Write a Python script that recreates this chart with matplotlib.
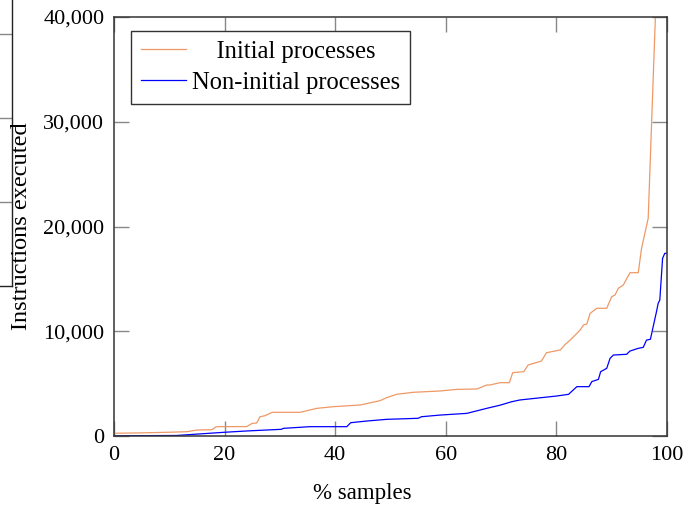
import numpy as np
import matplotlib.pyplot as plt

# % samples / instructions executed
init_x = [0, 5, 10, 13.2, 15, 17.7, 18.5, 24, 25, 25.8, 26.4, 27.3, 28.6, 33.6,
          35.4, 36.7, 39.7, 44.5, 48.1, 49.3, 51.1, 54.1, 59, 62, 65.6, 66.2,
          67.4, 68, 69.8, 71.5, 72.1, 74.1, 74.9, 77.3, 78.2, 80.7, 81.6, 82.5,
          83.4, 84.3, 84.9, 85.5, 86.1, 87.3, 89.1, 90, 90.6, 91.2, 92.1, 93.3,
          94.8, 95.4, 96.6, 97.9, 98.3]
init_y = [260, 300, 360, 410, 570, 600, 890, 900, 1210, 1240, 1840, 1940, 2260, 2260,
          2480, 2640, 2800, 2960, 3370, 3660, 3980, 4170, 4300, 4450, 4490, 4610,
          4870, 4870, 5090, 5090, 6050, 6140, 6780, 7160, 7950, 8210, 8750, 9160,
          9640, 10120, 10600, 10690, 11710, 12190, 12190, 13300, 13460, 14100, 14420, 15590,
          15590, 17920, 20780, 40000, 46000]

noninit_x = [0, 11.3, 19.8, 24, 30.3, 30.6, 35.4, 42.1, 42.8, 45.7, 49.3, 55, 55.6,
             59, 63.8, 65, 67.4, 69.8, 71.9, 73.4, 80.1, 82.2, 83.7, 85.9, 86.4,
             87.6, 88, 89.1, 89.7, 90.3, 92.7, 93.3, 94.8, 95.7, 96.3, 97, 97.5,
             98.1, 98.4, 98.7, 99.2, 99.6, 100]
noninit_y = [20, 50, 350, 480, 640, 730, 890, 890, 1270, 1430, 1590, 1690, 1840,
             2000, 2160, 2320, 2640, 2940, 3270, 3440, 3820, 3980, 4710, 4710, 5190,
             5410, 6140, 6460, 7410, 7730, 7800, 8110, 8370, 8460, 9160, 9230, 10440,
             11870, 12660, 12980, 16960, 17440, 17440]

yticks = [0, 10000, 20000, 30000, 40000]
xticks = [0, 20, 40, 60, 80, 100]

plt.rcParams['font.family'] = ['Liberation Serif', 'DejaVu Serif']
plt.rcParams['font.size'] = 16

fig = plt.figure(figsize=(6.96, 5.08), dpi=100)

# sliver of a neighbouring plot frame at the left edge
ax0 = fig.add_axes([-0.5, 1 - 286 / 508, 0.5 + 12 / 696, 0.7])
ax0.set_xlim(0, 1)
ax0.set_ylim(0, 1)
for s in ['top', 'left']:
    ax0.spines[s].set_visible(False)
for s in ['right', 'bottom']:
    ax0.spines[s].set_color('#222222')
    ax0.spines[s].set_linewidth(1.0)
ax0.set_xticks([])
ax0.yaxis.tick_right()
ax0.set_yticks([0.236, 0.472, 0.709])
ax0.tick_params(axis='y', direction='in', length=12, color='#888888', width=1, labelright=False)

ax = fig.add_axes([114 / 696, 1 - 436 / 508, 553 / 696, 419 / 508])
# leading spaces centre the shorter label like the pgfplots legend
ax.plot(init_x, init_y, color='#EE9966', lw=0.9, label='    Initial processes')
ax.plot(noninit_x, noninit_y, color='#0000FF', lw=0.9, label='Non-initial processes')

ax.set_xlim(0, 100)
ax.set_ylim(0, 40000)
ax.set_xticks(xticks)
ax.set_yticks(yticks)
ax.set_yticklabels([f'{v:,}' for v in yticks])
ax.tick_params(direction='in', length=11, width=1, color='#888888',
               top=True, right=True, labelsize=16, pad=7)
for s in ax.spines.values():
    s.set_color('#333333')
    s.set_linewidth(1.1)

fig.text(362 / 696, 1 - 494 / 508, '% samples', ha='center', va='center', fontsize=16.5)
fig.text(22 / 696, 1 - 226 / 508, 'Instructions executed', ha='center', va='center',
         rotation=90, fontsize=17.5)

leg = ax.legend(loc='upper left', bbox_to_anchor=(17 / 553, 1 - 14 / 419),
                fancybox=False, edgecolor='#333333', framealpha=1, fontsize=17.7,
                handlelength=1.85, handletextpad=0.25, borderpad=0.4, labelspacing=0.35,
                borderaxespad=0)
leg.get_frame().set_linewidth(1.0)

fig.savefig('out.png', dpi=100)
